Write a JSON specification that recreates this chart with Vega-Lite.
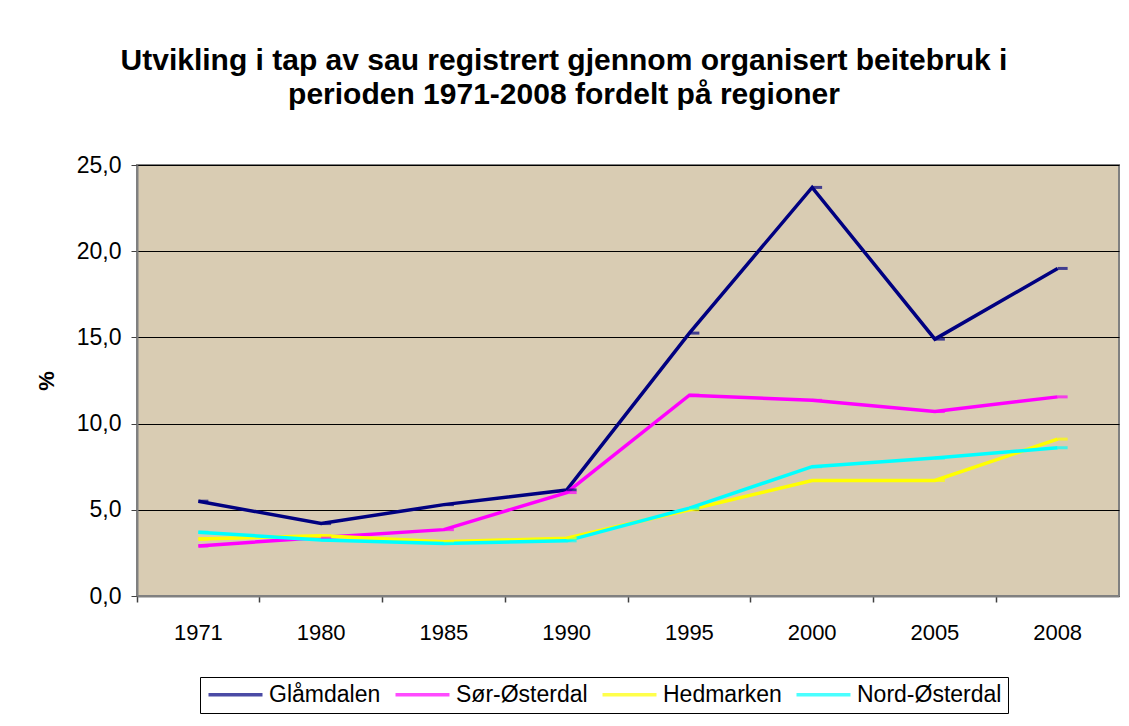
{
  "$schema": "https://vega.github.io/schema/vega-lite/v6.json",
  "width": 982,
  "height": 431,
  "autosize": {"type": "none"},
  "padding": {"left": 137, "top": 165, "right": 10, "bottom": 130},
  "background": "white",
  "title": {
    "text": ["Utvikling i tap av sau registrert gjennom organisert beitebruk i", "perioden 1971-2008 fordelt på regioner"],
    "font": "Liberation Sans",
    "fontSize": 30,
    "fontWeight": "bold",
    "color": "black",
    "anchor": "middle",
    "frame": "group",
    "dx": -64,
    "offset": 44,
    "lineHeight": 34
  },
  "data": {
    "values": [
      {"year": "1971", "region": "Glåmdalen", "v": 5.5},
      {"year": "1980", "region": "Glåmdalen", "v": 4.2},
      {"year": "1985", "region": "Glåmdalen", "v": 5.3},
      {"year": "1990", "region": "Glåmdalen", "v": 6.15},
      {"year": "1995", "region": "Glåmdalen", "v": 15.25},
      {"year": "2000", "region": "Glåmdalen", "v": 23.7},
      {"year": "2005", "region": "Glåmdalen", "v": 14.9},
      {"year": "2008", "region": "Glåmdalen", "v": 19.0},
      {"year": "1971", "region": "Sør-Østerdal", "v": 2.9},
      {"year": "1980", "region": "Sør-Østerdal", "v": 3.4},
      {"year": "1985", "region": "Sør-Østerdal", "v": 3.85},
      {"year": "1990", "region": "Sør-Østerdal", "v": 6.0},
      {"year": "1995", "region": "Sør-Østerdal", "v": 11.65},
      {"year": "2000", "region": "Sør-Østerdal", "v": 11.35},
      {"year": "2005", "region": "Sør-Østerdal", "v": 10.7},
      {"year": "2008", "region": "Sør-Østerdal", "v": 11.55},
      {"year": "1971", "region": "Hedmarken", "v": 3.3},
      {"year": "1980", "region": "Hedmarken", "v": 3.5},
      {"year": "1985", "region": "Hedmarken", "v": 3.15},
      {"year": "1990", "region": "Hedmarken", "v": 3.35},
      {"year": "1995", "region": "Hedmarken", "v": 5.0},
      {"year": "2000", "region": "Hedmarken", "v": 6.7},
      {"year": "2005", "region": "Hedmarken", "v": 6.7},
      {"year": "2008", "region": "Hedmarken", "v": 9.1},
      {"year": "1971", "region": "Nord-Østerdal", "v": 3.7},
      {"year": "1980", "region": "Nord-Østerdal", "v": 3.25},
      {"year": "1985", "region": "Nord-Østerdal", "v": 3.05},
      {"year": "1990", "region": "Nord-Østerdal", "v": 3.2},
      {"year": "1995", "region": "Nord-Østerdal", "v": 5.1},
      {"year": "2000", "region": "Nord-Østerdal", "v": 7.5},
      {"year": "2005", "region": "Nord-Østerdal", "v": 8.0},
      {"year": "2008", "region": "Nord-Østerdal", "v": 8.6}
    ]
  },
  "encoding": {
    "x": {
      "field": "year",
      "type": "ordinal",
      "scale": {"type": "band", "paddingInner": 0, "paddingOuter": 0},
      "axis": {
        "title": null,
        "labelFont": "Liberation Sans",
        "labelFontSize": 22,
        "labelColor": "black",
        "labelPadding": 20,
        "labelAngle": 0,
        "ticks": true,
        "tickSize": 6,
        "tickColor": "#404040",
        "tickWidth": 1.5,
        "bandPosition": 0,
        "domainColor": "#808080",
        "domainWidth": 2
      }
    },
    "y": {
      "field": "v",
      "type": "quantitative",
      "scale": {"domain": [0, 25], "nice": false},
      "axis": {
        "values": [0, 5, 10, 15, 20, 25],
        "title": "%",
        "titleFont": "Liberation Sans",
        "titleFontSize": 22,
        "titleFontWeight": "bold",
        "titleColor": "black",
        "titlePadding": 18,
        "labelFont": "Liberation Sans",
        "labelFontSize": 23,
        "labelColor": "black",
        "labelPadding": 10,
        "labelExpr": "replace(format(datum.value, '.1f'), '.', ',')",
        "grid": true,
        "gridColor": "black",
        "gridWidth": 1,
        "domainColor": "#808080",
        "domainWidth": 2,
        "tickColor": "#404040",
        "tickSize": 6
      }
    },
    "color": {
      "field": "region",
      "type": "nominal",
      "scale": {
        "domain": ["Glåmdalen", "Sør-Østerdal", "Hedmarken", "Nord-Østerdal"],
        "range": ["#000080", "#ff00ff", "#ffff00", "#00ffff"]
      },
      "legend": {
        "orient": "none",
        "legendX": 63,
        "legendY": 512,
        "direction": "horizontal",
        "title": null,
        "strokeColor": "black",
        "fillColor": "white",
        "padding": 6,
        "symbolType": "M-3,0H3",
        "symbolSize": 324,
        "symbolOffset": 18,
        "symbolStrokeWidth": 3.5,
        "labelFont": "Liberation Sans",
        "labelFontSize": 23,
        "labelColor": "black",
        "labelOffset": 22,
        "columnPadding": 7
      }
    }
  },
  "layer": [
    {
      "mark": {"type": "line", "strokeWidth": 3.5}
    },
    {
      "mark": {"type": "tick", "size": 10, "thickness": 3, "xOffset": 5}
    }
  ],
  "config": {
    "view": {"fill": "#d9ccb3", "stroke": "#808080", "strokeWidth": 2}
  }
}
